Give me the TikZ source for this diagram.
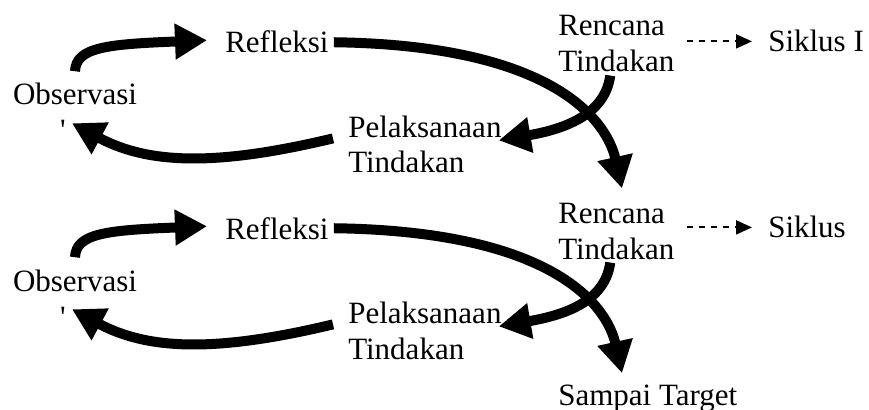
\documentclass[tikz,border=0pt]{standalone}
\usepackage{fontspec}
\setmainfont{Liberation Serif}
\usetikzlibrary{positioning,calc,arrows.meta}

\begin{document}
\begin{tikzpicture}[x=0.75pt,y=-0.75pt,
		lbl/.style={inner sep=0pt, anchor=base west, align=left, font=\fontsize{23.25pt}{27pt}\selectfont},
		flow/.style={line width=7.5pt, -{Triangle[length=24pt,width=25.5pt]}},
		dashflow/.style={line width=1.5pt, dash pattern=on 4.5pt off 4.5pt, -{Triangle[length=12pt,width=10.5pt]}, shorten <=9pt, shorten >=12pt}]
		
		\useasboundingbox (0,0) rectangle (869,410);
		
		% first cycle
		\node[lbl] (ref1) at (225,53) {Refleksi};
		\node[lbl, anchor=base, align=center] (obs1) at (75,141) {Observasi\\\textquotesingle\hspace*{18pt}};
		\node[lbl] (pel1) at (348,173) {Pelaksanaan\\Tindakan};
		\node[lbl] (ren1) at (558,72) {Rencana\\Tindakan};
		\node[lbl] (sik1) at (768,52) {Siklus I};
		
		% second cycle
		\node[lbl] (ref2) at (225,239) {Refleksi};
		\node[lbl, anchor=base, align=center] (obs2) at (75,327) {Observasi\\\textquotesingle\hspace*{18pt}};
		\node[lbl] (pel2) at (348,359) {Pelaksanaan\\Tindakan};
		\node[lbl] (ren2) at (558,259) {Rencana\\Tindakan};
		\node[lbl] (sik2) at (768,238) {Siklus};
		\node[lbl] (tgt) at (558,405) {Sampai Target};
		
		\draw[flow] ($(obs1.north)+(0,-12)$) .. controls +(1,-24) and +(-100,4) .. ($(ref1.west)+(-18,-2)$);
		\draw[flow] ($(pel1.west)+(-15,-6)$) .. controls +(-113,27) and +(78,42) .. ($(obs1.south)+(-3,-18)$);
		\draw[flow] ($(ref1.east)+(5,0)$) .. controls +(227,3) and +(-14,-63) .. ($(ren2.north west)+(64,-14)$);
		\draw[flow] ($(ren1.south)+(-6,3)$) .. controls +(-5,37) and +(70,-12) .. ($(pel1.east)+(-3,-4)$);
		\draw[dashflow] (ren1.east |- sik1.west) -- (sik1.west);
		
		\draw[flow] ($(obs2.north)+(0,-12)$) .. controls +(1,-24) and +(-100,4) .. ($(ref2.west)+(-18,-2)$);
		\draw[flow] ($(pel2.west)+(-15,-6)$) .. controls +(-113,27) and +(78,42) .. ($(obs2.south)+(-3,-18)$);
		\draw[flow] ($(ref2.east)+(5,0)$) .. controls +(227,3) and +(-14,-63) .. ($(tgt.north west)+(64,-11)$);
		\draw[flow] ($(ren2.south)+(-6,3)$) .. controls +(-5,37) and +(70,-12) .. ($(pel2.east)+(-3,-4)$);
		\draw[dashflow] (ren2.east |- sik2.west) -- (sik2.west);
	\end{tikzpicture}
\end{document}
